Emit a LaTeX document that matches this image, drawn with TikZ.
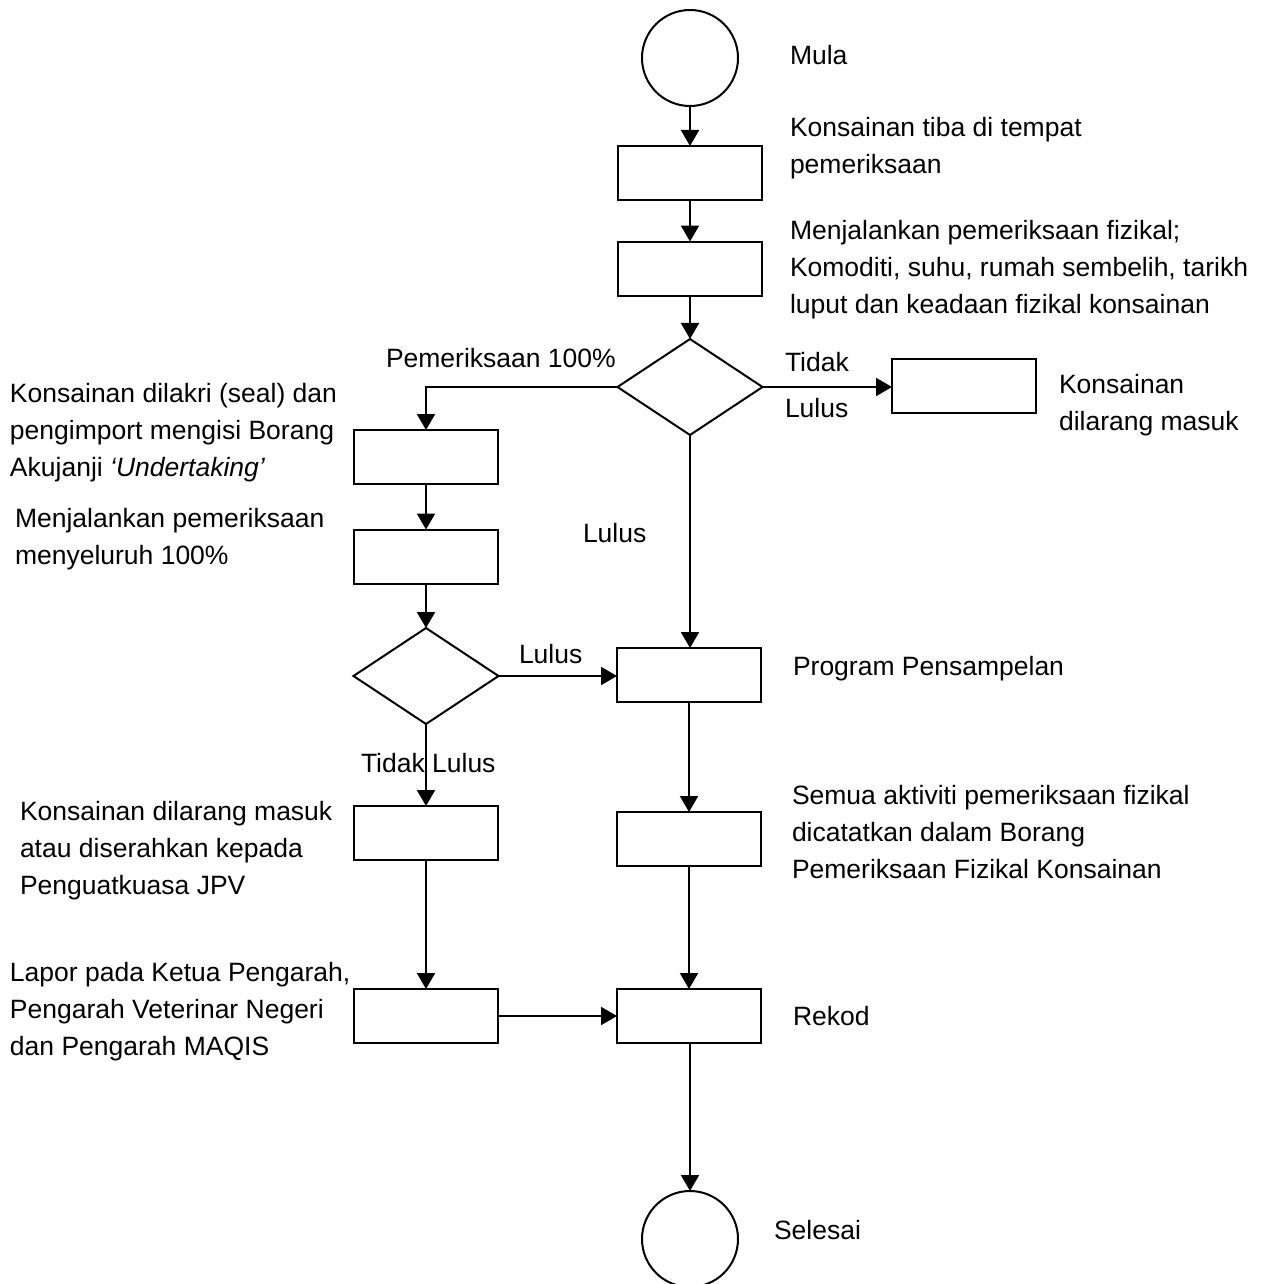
\documentclass[tikz,border=0pt]{standalone}
\usepackage{fontspec}
\setmainfont{Liberation Sans}
\usetikzlibrary{arrows.meta,shapes.geometric}
\begin{document}
\begin{tikzpicture}[x=0.5pt,y=-0.5pt,
  every node/.style={inner sep=0pt, outer sep=0pt},
  lbl/.style={anchor=base west, align=left, font=\fontsize{13.25pt}{18.3pt}\selectfont},
  term/.style={draw, line width=1pt, circle, minimum size=48pt},
  stepbox/.style={draw, line width=1pt, rectangle, minimum width=72pt, minimum height=27pt},
  decide/.style={draw, line width=1pt, diamond, minimum width=72.5pt, minimum height=48pt},
  conn/.style={line width=1pt, -{Triangle[length=8pt,width=9pt]}},
  plain/.style={line width=1pt}]
\useasboundingbox (0,0) rectangle (1264,1284);
% nodes
\node[term] (start) at (690,58) {};
\node[stepbox] (b1) at (690,173) {};
\node[stepbox] (b2) at (690,268.5) {};
\node[decide] (d1) at (690,387) {};
\node[stepbox] (r1) at (964,386) {};
\node[stepbox] (b3) at (426,457) {};
\node[stepbox] (b4) at (426,556.5) {};
\node[decide] (d2) at (426,676) {};
\node[stepbox] (prog) at (689,675) {};
\node[stepbox] (b5) at (426,833) {};
\node[stepbox] (b7) at (689,839) {};
\node[stepbox] (b6) at (426,1016) {};
\node[stepbox] (rekod) at (689,1016) {};
\node[term] (end) at (690,1239) {};
% connectors
\draw[conn] (start) -- (b1);
\draw[conn] (b1) -- (b2);
\draw[conn] (b2) -- (d1);
\draw[conn] (d1.east) -- (d1.east -| r1.west);
\draw[conn] (d1.west) -| (b3.north);
\draw[conn] (b3) -- (b4);
\draw[conn] (b4) -- (d2);
\draw[conn] (d2.east) -- (d2.east -| prog.west);
\draw[conn] (d2) -- (b5);
\draw[conn] (d1.south) -- (d1.south |- prog.north);
\draw[conn] (prog) -- (b7);
\draw[conn] (b7) -- (rekod);
\draw[conn] (b5) -- (b6);
\draw[conn] (b6) -- (rekod);
\draw[conn] (rekod.south) -- (rekod.south -| end.north) -- (end.north);
% labels (anchored at the baseline of the last line)
\node[lbl] (tMula) at (790,65) {Mula};
\node[lbl] (tTiba) at (790,173.5) {Konsainan tiba di tempat\\pemeriksaan};
\node[lbl] (tFiz) at (790,313) {Menjalankan pemeriksaan fizikal;\\Komoditi, suhu, rumah sembelih, tarikh\\luput dan keadaan fizikal konsainan};
\node[lbl] (tP100) at (386,367) {Pemeriksaan 100\%};
\node[lbl] (tTidak) at (785,371) {Tidak};
\node[lbl] (tLulus1) at (785,417) {Lulus};
\node[lbl] (tLarang) at (1059,430) {Konsainan\\dilarang masuk};
\node[lbl] (tSeal) at (10,476) {Konsainan dilakri (seal) dan\\pengimport mengisi Borang\\Akujanji \textit{‘Undertaking’}};
\node[lbl] (tMenye) at (15,564) {Menjalankan pemeriksaan\\menyeluruh 100\%};
\node[lbl] (tLulus2) at (583,542) {Lulus};
\node[lbl] (tLulus3) at (519,663) {Lulus};
\node[lbl] (tProg) at (793,675) {Program Pensampelan};
\node[lbl] (tTL) at (361,772) {Tidak Lulus};
\node[lbl] (tLarang2) at (20,894) {Konsainan dilarang masuk\\atau diserahkan kepada\\Penguatkuasa JPV};
\node[lbl] (tSemua) at (792,878) {Semua aktiviti pemeriksaan fizikal\\dicatatkan dalam Borang\\Pemeriksaan Fizikal Konsainan};
\node[lbl] (tLapor) at (10,1055) {Lapor pada Ketua Pengarah,\\Pengarah Veterinar Negeri\\dan Pengarah MAQIS};
\node[lbl] (tRekod) at (793,1025) {Rekod};
\node[lbl] (tSelesai) at (774,1239) {Selesai};
\end{tikzpicture}
\end{document}
